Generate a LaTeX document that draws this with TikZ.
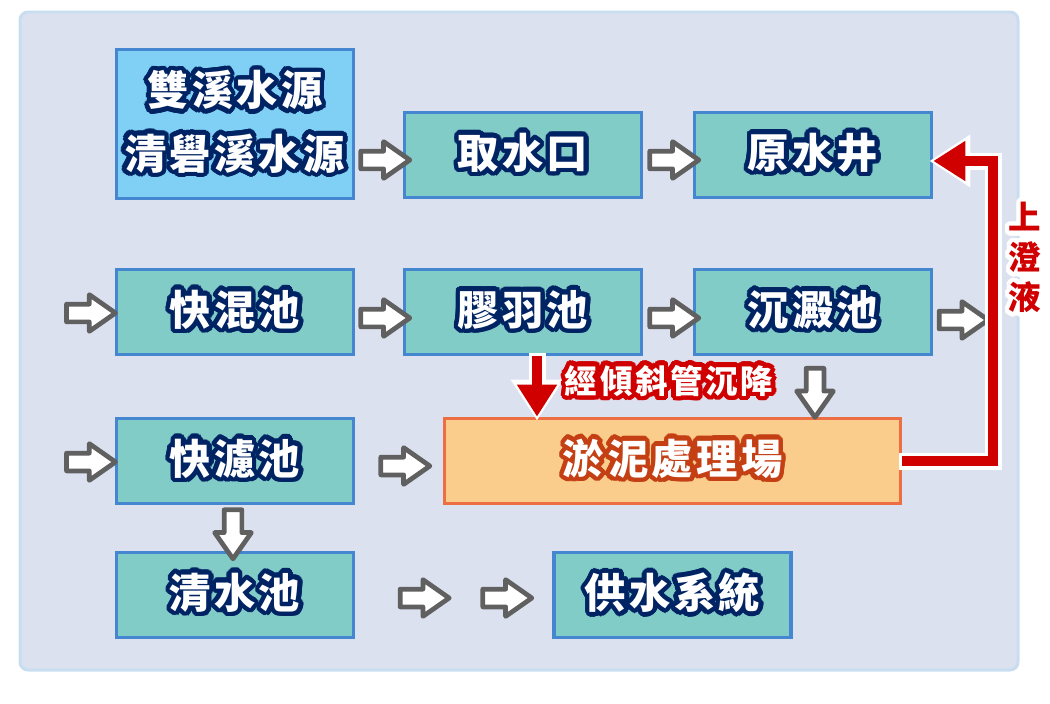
\documentclass[tikz,border=0pt]{standalone}
\usepackage{fontspec}
\usepackage{contour}
\usetikzlibrary{calc,shapes.arrows,arrows.meta}
\newfontfamily\cjk{Noto Sans CJK TC}[LetterSpace=8]
\definecolor{panel}{RGB}{220,225,240}
\definecolor{panelrim}{RGB}{200,222,240}
\definecolor{srcfill}{RGB}{128,208,245}
\definecolor{tankfill}{RGB}{130,204,200}
\definecolor{rim}{RGB}{68,134,208}
\definecolor{mudfill}{RGB}{250,205,140}
\definecolor{mudrim}{RGB}{238,110,68}
\definecolor{navy}{RGB}{0,35,100}
\definecolor{rust}{RGB}{196,64,20}
\definecolor{alarm}{RGB}{208,0,0}
\definecolor{pipe}{RGB}{96,96,96}
\contourlength{2.6pt}
\contournumber{24}
\newcommand\tanktxt[1]{\contour{navy}{\textcolor{white}{#1}}}
\newcommand\mudtxt[1]{\contour{rust}{\textcolor{white}{#1}}}
\newcommand\warntxt[1]{\contour{alarm}{\textcolor{white}{#1}}}
\newcommand\sidetxt[1]{\contour{white}{\textcolor{alarm}{#1}}}

\begin{document}
\begin{tikzpicture}[x=0.02cm,y=-0.02cm,
  tank/.style={draw=rim,fill=tankfill,line width=2.1pt,inner sep=0pt,
    minimum width=4.74cm,minimum height=1.7cm,
    font=\cjk\bfseries\fontsize{23.5}{36}\selectfont},
  srcbox/.style={tank,fill=srcfill,minimum height=2.98cm,align=center},
  mudbox/.style={tank,draw=mudrim,fill=mudfill,minimum width=9.12cm},
  flow/.style={single arrow,draw=pipe,fill=white,line width=2.7pt,
    line join=round,inner xsep=0pt,inner ysep=0.13cm,minimum height=0.98cm,
    single arrow head extend=0.19cm,single arrow tip angle=70},
  down/.style={flow,rotate=-90},
  mudpipe/.style={alarm,line width=0.2cm,-{Triangle[length=0.64cm,width=0.76cm]}},
  mudhalo/.style={white,line width=0.34cm,-{Triangle[length=0.82cm,width=1.0cm]},
    shorten >=-0.08cm,shorten <=-0.06cm},
  note/.style={font=\cjk\bfseries\fontsize{18.5}{22.8}\selectfont,inner sep=0pt,align=center}]

\useasboundingbox (0,0) rectangle (1050,703);

% panel
\draw[panelrim,fill=panel,line width=0.06cm,rounded corners=0.16cm] (20,12) rectangle (1018,670);

% stations
\node[srcbox] (src) at (235,124) {\tanktxt{雙溪水源}\\\tanktxt{清礐溪水源}};
\node[tank] (intake) at (523,155) {\tanktxt{取水口}};
\node[tank] (well) at (813,155) {\tanktxt{原水井}};
\node[tank] (mix) at (235,312) {\tanktxt{快混池}};
\node[tank] (floc) at (523,312) {\tanktxt{膠羽池}};
\node[tank] (settle) at (813,312) {\tanktxt{沉澱池}};
\node[tank] (filter) at (235,461) {\tanktxt{快濾池}};
\node[mudbox] (sludge) at (672.5,461) {\mudtxt{淤泥處理場}};
\node[tank] (clear) at (235,595) {\tanktxt{清水池}};
\node[tank] (supply) at (672.5,595) {\tanktxt{供水系統}};

% grey flow arrows
\node[flow] (f1) at ($(src.east |- intake)!0.5!(intake.west)+(0,5)$) {};
\node[flow] (f2) at ($(intake.east)!0.5!(well.west)+(0,5)$) {};
\node[flow] (in1) at ($(mix.west)+(-30,1)$) {};
\node[flow] (f3) at ($(mix.east)!0.5!(floc.west)+(0,6)$) {};
\node[flow] (f4) at ($(floc.east)!0.5!(settle.west)+(0,6)$) {};
\node[flow] (f5) at ($(settle.east)+(24,8)$) {};
\node[down] (f6) at ($(settle.south)!0.5!(settle.south |- sludge.north)+(2,0)$) {};
\node[flow] (in2) at ($(filter.west)+(-30,1)$) {};
\node[flow] (f7) at ($(filter.east)!0.5!(sludge.west)+(0,5)$) {};
\node[down] (f8) at ($(filter.south)!0.5!(clear.north)+(-2,0)$) {};
\node[flow] (f9) at ($(clear.east)!0.32!(supply.west)+(0,3)$) {};
\node[flow] (f10) at ($(clear.east)!0.74!(supply.west)+(0,3)$) {};

% red sludge paths
\coordinate (drop) at ($(floc.south)+(14,0)$);
\coordinate (bend) at ($(well.east)+(60,6)$);
\draw[mudhalo] (drop) -- (drop |- sludge.north);
\draw[mudpipe] (drop) -- (drop |- sludge.north);
\draw[mudhalo,line join=miter] (sludge.east) -| (bend) -- ($(well.east)+(0,6)$);
\draw[mudpipe,line join=miter] (sludge.east) -| (bend) -- ($(well.east)+(0,6)$);

% labels
\node[note] (tilt) at (669,383) {\warntxt{經傾斜管沉降}};
\node[note] (clarified) at (1025,260) {\sidetxt{上}\\\sidetxt{澄}\\\sidetxt{液}};

\end{tikzpicture}
\end{document}
